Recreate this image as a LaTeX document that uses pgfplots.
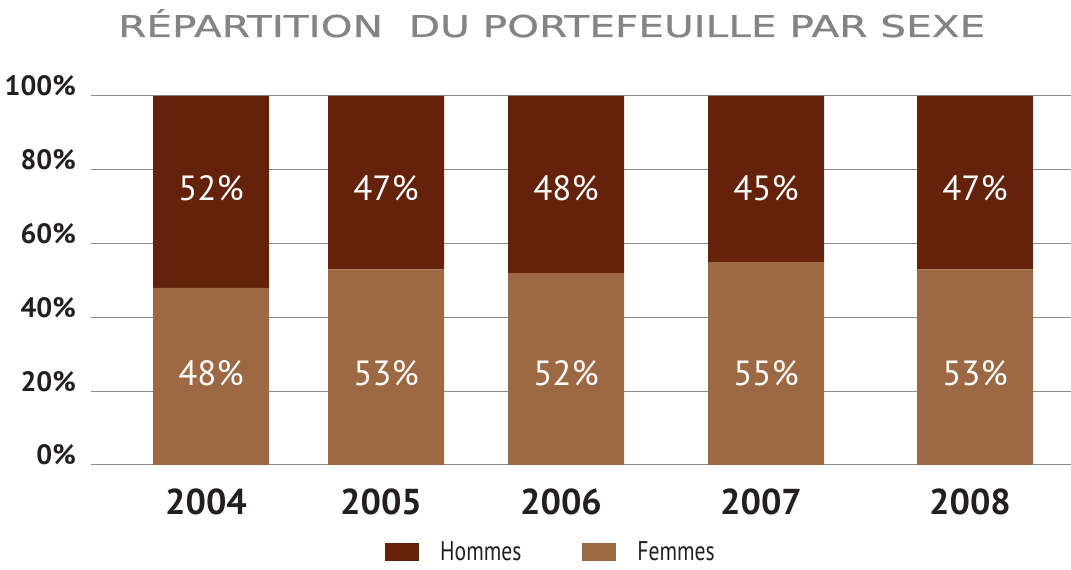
\documentclass[border=0pt]{standalone}
\usepackage{fontspec}
\setmainfont{PT Sans}
\newfontfamily\titlefont[FakeBold=0.6]{DejaVu Sans}
\newfontfamily\legfont[FakeStretch=0.8]{PT Sans}
\usepackage{pgfplots}
\pgfplotsset{compat=1.18}
\definecolor{hommes}{HTML}{632209}
\definecolor{femmes}{HTML}{9D6844}
\definecolor{gridgray}{HTML}{8C8C8C}
\definecolor{titlegray}{HTML}{848484}
\definecolor{ink}{HTML}{231F20}

\pgfplotsset{
  base/.style={
    scale only axis,
    width=980pt, height=369pt,
    at={(91pt,105pt)}, anchor=south west,
    xmin=91, xmax=1071,
    ymin=0, ymax=100,
  },
}

\begin{document}
\begin{tikzpicture}[x=1pt,y=1pt]
\useasboundingbox (0,0) rectangle (1071,570);

\node[anchor=base west, inner sep=0pt, text=titlegray] at (118,533)
  {\resizebox{867pt}{\height}{\titlefont\fontsize{30}{34}\selectfont RÉPARTITION\ \ DU PORTEFEUILLE PAR SEXE}};

\begin{axis}[
    base,
    ybar stacked,
    bar width=116,
    axis line style={draw=none},
    major tick length=0pt,
    ymajorgrids=true,
    grid style={gridgray, line width=1pt},
    ytick={0,20,40,60,80,100},
    yticklabels={0\%,20\%,40\%,60\%,80\%,100\%},
    yticklabel style={anchor=base east, inner sep=0pt, xshift=-15pt,
      font=\fontsize{28}{30}\selectfont\bfseries, text=ink},
    xtick={211,386,566,766,975},
    xticklabels={2004,2005,2006,2007,2008},
    xticklabel style={anchor=base, inner sep=0pt, yshift=-49pt, xshift=-5pt,
      font=\fontsize{36}{40}\selectfont\bfseries, text=ink},
    every axis plot/.append style={draw=none},
    reverse legend,
    legend columns=-1,
    legend style={
      at={(0.3,-0.235)}, anchor=west,
      draw=none, fill=none, inner sep=0pt,
      nodes={inner sep=0pt, text=ink},
      font=\legfont\fontsize{27}{29}\selectfont,
      /tikz/every odd column/.append style={column sep=21pt},
      /tikz/every even column/.append style={column sep=61pt},
    },
]
\addplot[fill=femmes,
  legend image code/.code={\fill[femmes] (0pt,-9pt) rectangle (34pt,9pt);}]
  coordinates {(211,48) (386,53) (566,52) (766,55) (975,53)};
\addlegendentry{Femmes}
\addplot[fill=hommes,
  legend image code/.code={\fill[hommes] (0pt,-9pt) rectangle (34pt,9pt);}]
  coordinates {(211,52) (386,47) (566,48) (766,45) (975,47)};
\addlegendentry{Hommes}
\end{axis}

\begin{axis}[
    base,
    hide axis,
    clip=false,
    nodes near coords={\pgfplotspointmeta\%},
    point meta=explicit symbolic,
    every node near coord/.append style={anchor=center, text=white,
      font=\fontsize{35}{38}\selectfont},
]
\addplot[only marks, mark=none] table[meta=lab] {
x   y  lab
211 25 48
386 25 53
566 25 52
766 25 55
975 25 53
};
\addplot[only marks, mark=none] table[meta=lab] {
x   y  lab
211 75 52
386 75 47
566 75 48
766 75 45
975 75 47
};
\end{axis}
\end{tikzpicture}
\end{document}
